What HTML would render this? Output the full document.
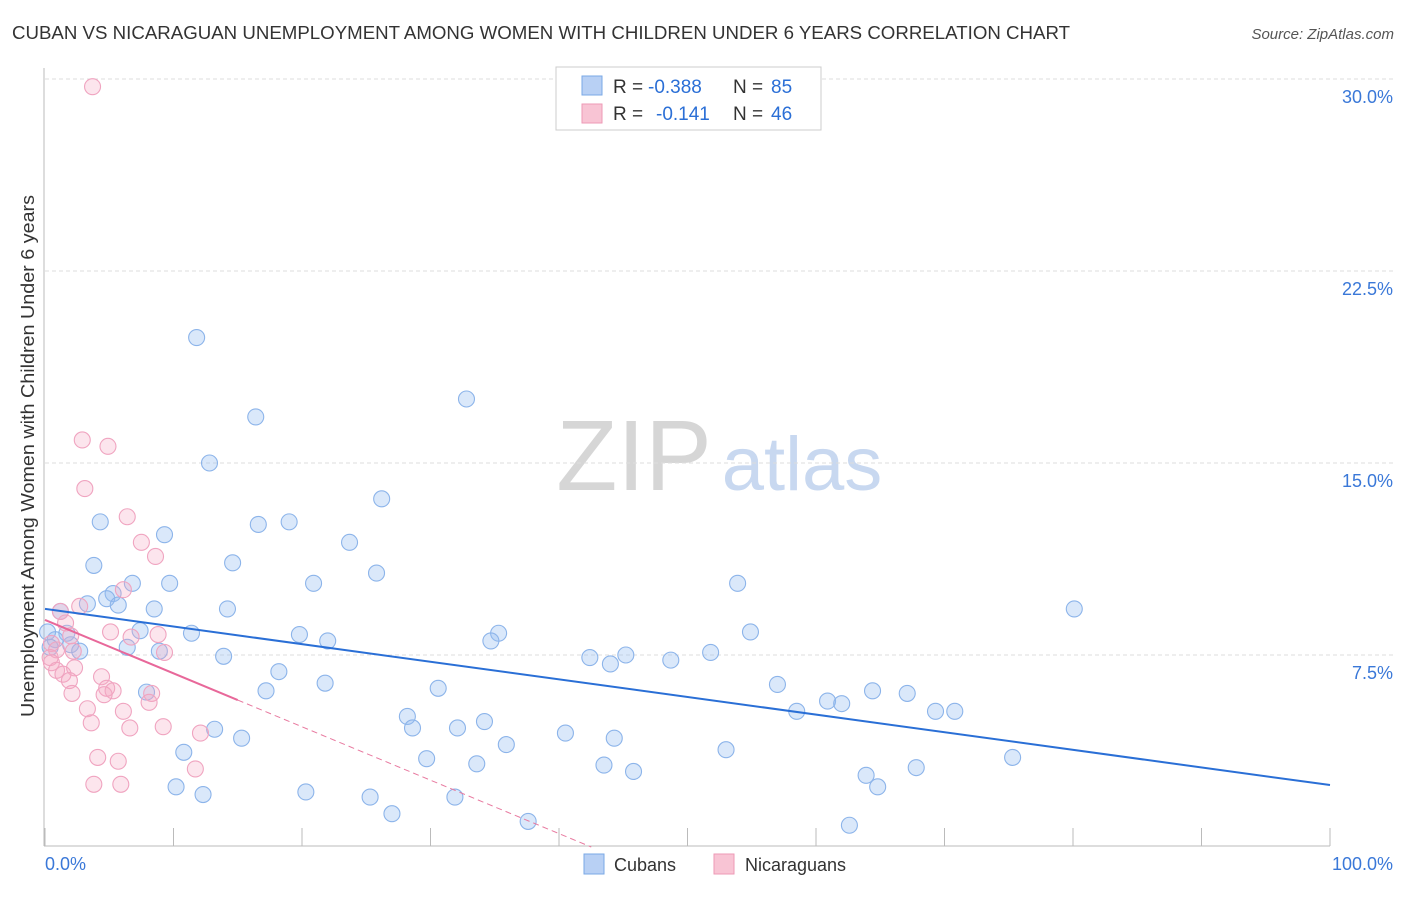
<!DOCTYPE html>
<html><head><meta charset="utf-8"><style>
body{margin:0;background:#fff;font-family:"Liberation Sans",sans-serif;}
svg text{font-family:"Liberation Sans",sans-serif;}
</style></head><body>
<svg id="c" width="1406" height="892">
<text x="12" y="39" font-size="18" fill="#333" textLength="1058" lengthAdjust="spacingAndGlyphs">CUBAN VS NICARAGUAN UNEMPLOYMENT AMONG WOMEN WITH CHILDREN UNDER 6 YEARS CORRELATION CHART</text>
<text x="1394" y="39" font-size="15" fill="#555" font-style="italic" text-anchor="end">Source: ZipAtlas.com</text>
<text x="634" y="490" font-size="100" fill="#d6d6d6" font-family="Liberation Serif" text-anchor="middle">ZIP</text>
<text x="802" y="490" font-size="76" fill="#c8d8f0" text-anchor="middle">atlas</text>
<text transform="translate(34,717) rotate(-90)" font-size="18" fill="#333" textLength="522" lengthAdjust="spacingAndGlyphs">Unemployment Among Women with Children Under 6 years</text>
<g id="grid"></g><g id="pts"></g><g id="lines"></g>
<g>
<rect x="556" y="67" width="265" height="63" fill="#fff" stroke="#ccc"/>
<rect x="582" y="76" width="20" height="19" fill="#b8d0f4" stroke="#7aa8e6"/>
<text x="613" y="93" font-size="19" fill="#333">R = </text><text x="648" y="93" font-size="19" fill="#2b6fd6">-0.388</text>
<text x="733" y="93" font-size="19" fill="#333">N = </text><text x="771" y="93" font-size="19" fill="#2b6fd6">85</text>
<rect x="582" y="104" width="20" height="19" fill="#f8c4d4" stroke="#ee9ab6"/>
<text x="613" y="120" font-size="19" fill="#333">R = </text><text x="656" y="120" font-size="19" fill="#2b6fd6">-0.141</text>
<text x="733" y="120" font-size="19" fill="#333">N = </text><text x="771" y="120" font-size="19" fill="#2b6fd6">46</text>
</g>
<g><rect x="584" y="854" width="20" height="20" fill="#b8d0f4" stroke="#7aa8e6"/><text x="614" y="871" font-size="18" fill="#333">Cubans</text></g>
<g><rect x="714" y="854" width="20" height="20" fill="#f8c4d4" stroke="#ee9ab6"/><text x="745" y="871" font-size="18" fill="#333">Nicaraguans</text></g>
</svg>
<script>
const yTicks=[7.5,15,22.5,30];
const yTickLabels=["7.5%","15.0%","22.5%","30.0%"];
const xTicks=[0,10,20,30,40,50,60,70,80,90,100];
const cubanX=[11.8,16.4,32.8,12.8,26.2,4.3,16.6,19.0,9.3,23.7,3.8,14.6,25.8,6.8,9.7,20.9,53.9,5.3,4.8,3.3,5.7,1.2,8.5,14.2,80.1,7.4,11.4,19.8,35.3,54.9,22.0,34.7,1.7,0.8,2.0,0.4,6.4,2.7,8.9,13.9,42.4,45.2,44.0,48.7,51.8,18.2,21.8,17.2,30.6,7.9,57.0,64.4,67.1,60.9,62.0,58.5,69.3,70.8,28.2,28.6,32.1,34.2,13.2,40.5,15.3,44.3,35.9,10.8,53.0,29.7,75.3,43.5,33.6,45.8,67.8,63.9,10.2,12.3,20.3,25.3,31.9,64.8,27.0,37.6,62.6,0.2];
const cubanY=[19.9,16.8,17.5,15.0,13.6,12.7,12.6,12.7,12.2,11.9,11.0,11.1,10.7,10.3,10.3,10.3,10.3,9.9,9.7,9.5,9.45,9.2,9.3,9.3,9.3,8.45,8.35,8.3,8.35,8.4,8.05,8.05,8.35,8.1,7.9,7.8,7.8,7.65,7.65,7.45,7.4,7.5,7.15,7.3,7.6,6.85,6.4,6.1,6.2,6.05,6.35,6.1,6.0,5.7,5.6,5.3,5.3,5.3,5.1,4.65,4.65,4.9,4.6,4.45,4.25,4.25,4.0,3.7,3.8,3.45,3.5,3.2,3.25,2.95,3.1,2.8,2.35,2.05,2.15,1.95,1.95,2.35,1.3,1.0,0.85,8.4];
const nicX=[3.7,2.9,4.9,3.1,6.4,7.5,8.6,6.1,2.7,1.2,1.6,5.1,8.8,2.0,6.7,0.5,0.9,9.3,2.2,0.4,0.5,2.3,0.9,1.4,1.9,4.4,4.8,5.3,4.6,2.1,8.3,8.1,3.3,6.1,3.6,9.2,6.6,12.1,4.1,5.7,11.7,3.8,5.9];
const nicY=[29.7,15.9,15.65,14.0,12.9,11.9,11.35,10.05,9.4,9.2,8.75,8.4,8.3,8.25,8.2,7.95,7.7,7.6,7.65,7.4,7.2,7.0,6.9,6.75,6.5,6.65,6.2,6.1,5.95,6.0,6.0,5.65,5.4,5.3,4.85,4.7,4.65,4.45,3.5,3.35,3.05,2.45,2.45];
const cubanTrend=[9.3,2.42];
const nicTrend=[8.87,5.74,15];
const NS="http://www.w3.org/2000/svg";
const X=v=>45+v*12.85, Y=v=>847-v*25.6;
function mk(t,a,p){const e=document.createElementNS(NS,t);for(const k in a)e.setAttribute(k,a[k]);p.appendChild(e);return e;}
const g=document.getElementById('grid');
yTicks.forEach((t,i)=>{
 const l=mk('line',{x1:45,x2:1394,y1:Y(t),y2:Y(t),stroke:'#ddd','stroke-dasharray':'4,3'},g);
 
 
 const tx=mk('text',{x:1393,y:Y(t)+24,'font-size':18,fill:'#3a78d8','text-anchor':'end'},g);tx.textContent=yTickLabels[i];
 
 
});
mk('line',{x1:44,x2:44,y1:68,y2:846,stroke:'#bbb'},g);
mk('line',{x1:44,x2:1330,y1:846,y2:846,stroke:'#bbb'},g);
xTicks.forEach(t=>{const l=mk('line',{x1:X(t),x2:X(t),y1:828,y2:846,stroke:'#bbb'},g);
 
 });
let t0=mk('text',{x:45,y:870,'font-size':18,fill:'#3a78d8'},g);t0.textContent='0.0%';


let t1=mk('text',{x:1393,y:870,'font-size':18,fill:'#3a78d8','text-anchor':'end'},g);t1.textContent='100.0%';


const p=document.getElementById('pts');
cubanX.forEach((x,i)=>{const c=mk('circle',{cx:X(x),cy:Y(cubanY[i]),r:8,fill:'rgba(150,190,240,0.35)',stroke:'#8cb4ea','stroke-width':1.1},p);
 
 });
nicX.forEach((x,i)=>{const c=mk('circle',{cx:X(x),cy:Y(nicY[i]),r:8,fill:'rgba(245,170,195,0.3)',stroke:'#f0a4c0','stroke-width':1.1},p);
 
 });
const L=document.getElementById('lines');
const b=mk('line',{x1:X(0),y1:Y(cubanTrend[0]),x2:X(100),y2:Y(cubanTrend[1]),stroke:'#2a6fd6','stroke-width':2},L);


const slope=(nicTrend[1]-nicTrend[0])/nicTrend[2];
const xz=-nicTrend[0]/slope;
const pd=mk('line',{x1:X(nicTrend[2]),y1:Y(nicTrend[1]),x2:X(xz),y2:Y(0),stroke:'#e87aa0','stroke-width':1,'stroke-dasharray':'6,4'},L);


const ps=mk('line',{x1:X(0),y1:Y(nicTrend[0]),x2:X(nicTrend[2]),y2:Y(nicTrend[1]),stroke:'#e8689a','stroke-width':2},L);


</script>
</body></html>
